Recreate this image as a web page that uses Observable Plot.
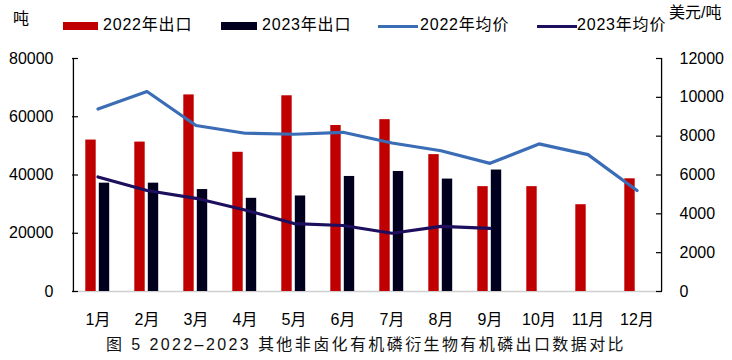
<!DOCTYPE html>
<html>
<head>
<meta charset="utf-8">
<script src="https://cdn.jsdelivr.net/npm/d3@7"></script>
<script src="https://cdn.jsdelivr.net/npm/@observablehq/plot@0.6"></script>
<style>
  html, body { margin: 0; padding: 0; background: #fff; }
  #wrap { position: relative; width: 732px; height: 360px; overflow: hidden;
    font-family: "Liberation Sans", "Noto Sans CJK SC", sans-serif; color: #000; }
  #wrap svg { position: absolute; left: 0; top: 0; }
  .lab { position: absolute; font-size: 16px; line-height: 16px; white-space: nowrap; }
  .sw { position: absolute; }
  #title { position: absolute; left: 0; width: 732px; top: 336px; text-align: center;
    font-size: 16px; line-height: 18px; letter-spacing: 2.4px; color: #111; white-space: nowrap; }
</style>
</head>
<body>
<div id="wrap"></div>
<script>
const months = ["1月","2月","3月","4月","5月","6月","7月","8月","9月","10月","11月","12月"];
const export2022 = [52000, 51300, 67500, 47800, 67200, 57000, 59000, 47000, 36000, 36000, 29800, 38700];
const export2023 = [37200, 37200, 35000, 32000, 32800, 39500, 41200, 38600, 41700];
const price2022 = [9400, 10300, 8550, 8150, 8100, 8200, 7650, 7250, 6600, 7600, 7050, 5200];
const price2023 = [5900, 5200, 4800, 4200, 3500, 3400, 3000, 3350, 3250];
const leftTicks = [0, 20000, 40000, 60000, 80000];
const rightTicks = [0, 2000, 4000, 6000, 8000, 10000, 12000];
const seriesNames = ["2022年出口", "2023年出口", "2022年均价", "2023年均价"];
const leftUnit = "吨";
const rightUnit = "美元/吨";
const titleText = "图 5  2022–2023 其他非卤化有机磷衍生物有机磷出口数据对比";

const colors = ["#C00000", "#00001E", "#3A6DB5", "#1E0F5E"];
const k = 80000 / 12000;

const bars22 = export2022.map((v, i) => ({month: months[i], value: v}));
const bars23 = export2023.map((v, i) => ({month: months[i], value: v}));
const line22 = price2022.map((v, i) => ({month: months[i], value: v * k}));
const line23 = price2023.map((v, i) => ({month: months[i], value: v * k}));

const W = 732, mL = 72, mR = 70;
const frameW = W - mL - mR;
const bw = frameW / months.length;
const inset = 19.3;
const tick = 6;

const chart = Plot.plot({
  width: W,
  height: 360,
  marginTop: 58,
  marginBottom: 69,
  marginLeft: mL,
  marginRight: mR,
  style: {fontFamily: "'Liberation Sans', 'Noto Sans CJK SC', sans-serif", fontSize: "16px", color: "#000", background: "transparent"},
  x: {type: "band", domain: months, padding: 0},
  y: {domain: [0, 80000]},
  marks: [
    Plot.ruleY([0], {stroke: "#cfcfcf", strokeWidth: 1.5}),
    Plot.barY(bars22, {x: "month", y: "value", fill: colors[0], dx: -7, insetLeft: inset, insetRight: inset}),
    Plot.barY(bars23, {x: "month", y: "value", fill: colors[1], dx: 6.5, insetLeft: inset, insetRight: inset}),
    Plot.line(line22, {x: "month", y: "value", stroke: colors[2], strokeWidth: 3.2}),
    Plot.line(line23, {x: "month", y: "value", stroke: colors[3], strokeWidth: 3.2}),
    // axis lines
    Plot.ruleX([months[0]], {dx: -bw / 2, stroke: "#000", strokeWidth: 1.3}),
    Plot.ruleX([months[months.length - 1]], {dx: bw / 2, stroke: "#000", strokeWidth: 1.3}),
    // inward ticks
    Plot.ruleY(leftTicks, {insetRight: frameW - tick, stroke: "#000", strokeWidth: 1.2}),
    Plot.ruleY(rightTicks.map(v => v * k), {insetLeft: frameW - tick, stroke: "#000", strokeWidth: 1.2}),
    Plot.axisY({anchor: "left", ticks: leftTicks, tickFormat: d => String(d), tickSize: 0, tickPadding: 19, label: null}),
    Plot.axisY({anchor: "right", ticks: rightTicks.map(v => v * k), tickFormat: d => String(Math.round(d / k)), tickSize: 0, tickPadding: 17, label: null}),
    Plot.axisX({anchor: "bottom", tickSize: 0, tickPadding: 22, label: null})
  ]
});

const wrap = document.getElementById("wrap");
wrap.appendChild(chart);

function addLabel(text, left, top, extra) {
  const d = document.createElement("div");
  d.className = "lab";
  d.textContent = text;
  d.style.left = left + "px";
  d.style.top = top + "px";
  if (extra) Object.assign(d.style, extra);
  wrap.appendChild(d);
}
function addSwatch(left, top, w, h, color) {
  const d = document.createElement("div");
  d.className = "sw";
  Object.assign(d.style, {left: left + "px", top: top + "px", width: w + "px", height: h + "px", background: color});
  wrap.appendChild(d);
}

addLabel(leftUnit, 13, 11);
addLabel(rightUnit, 669, 5);
// legend
addSwatch(63, 22, 35, 8, colors[0]);
addLabel(seriesNames[0], 103, 17, {letterSpacing: "0.8px"});
addSwatch(221, 22, 36, 8, colors[1]);
addLabel(seriesNames[1], 262, 17, {letterSpacing: "0.8px"});
addSwatch(378, 24.5, 40, 3, colors[2]);
addLabel(seriesNames[2], 420, 17, {letterSpacing: "0.8px"});
addSwatch(537, 24.5, 40, 3, colors[3]);
addLabel(seriesNames[3], 577, 17, {letterSpacing: "0.8px"});

const t = document.createElement("div");
t.id = "title";
t.textContent = titleText;
wrap.appendChild(t);
</script>
</body>
</html>
